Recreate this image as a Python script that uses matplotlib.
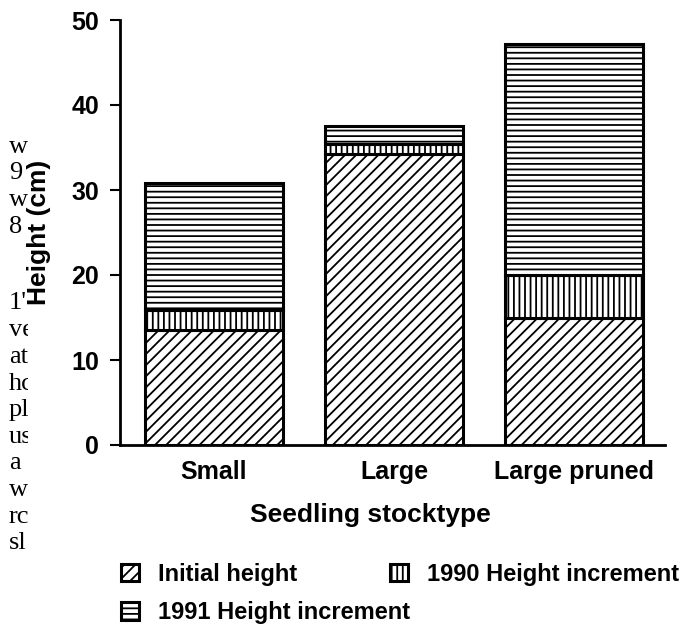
import matplotlib
matplotlib.use("Agg")
import matplotlib.pyplot as plt
import numpy as np
from matplotlib.transforms import Bbox, TransformedBbox

# data (cm)
stocktypes = ["Small", "Large", "Large pruned"]
initial = np.array([13.5, 34.2, 15.0])
inc_1990 = np.array([2.4, 1.2, 5.0])
inc_1991 = np.array([14.9, 2.1, 27.2])

# clipped words of the page text that sits left of the chart
margin_words = ["w", "9", "w", "8", "1'", "ve", "at", "hc", "pl", "us", "a", "w", "rc", "sl"]
margin_rows = [147, 173, 200, 227, 303, 330, 357, 384, 410, 437, 463, 490, 517, 543]

plt.rcParams['font.family'] = ['Liberation Sans', 'DejaVu Sans']
plt.rcParams['font.weight'] = 'bold'
plt.rcParams['axes.labelweight'] = 'bold'
plt.rcParams['hatch.linewidth'] = 1.3

W, H = 683, 629
fig = plt.figure(figsize=(W / 100, H / 100), dpi=100)
ax = fig.add_axes([120 / W, 1 - 445 / H, 545 / W, 425 / H])

x = np.arange(len(stocktypes))
width = 0.767
style = dict(color='white', edgecolor='black', linewidth=2.2)

b1 = ax.bar(x, initial, width, hatch='///', label='Initial height', **style)
b2 = ax.bar(x, inc_1990, width, bottom=initial, hatch='|||',
            label='1990 Height increment', **style)
b3 = ax.bar(x, inc_1991, width, bottom=initial + inc_1990, hatch='---',
            label='1991 Height increment', **style)

ax.set_xlim(-0.522, 2.506)
ax.set_ylim(0, 50)
ax.spines['top'].set_visible(False)
ax.spines['right'].set_visible(False)
ax.spines['left'].set_linewidth(2)
ax.spines['bottom'].set_linewidth(2)

ax.set_yticks(range(0, 51, 10))
ax.set_xticks(x)
ax.set_xticklabels(stocktypes)
ax.tick_params(axis='y', direction='out', length=7.2, width=1.5, pad=8, labelsize=18)
ax.tick_params(axis='x', length=0, pad=11, labelsize=18)

ax.set_ylabel('Height (cm)', fontsize=19)
ax.yaxis.set_label_coords(-0.126, 0.5)
ax.set_xlabel('Seedling stocktype', fontsize=19)
ax.xaxis.set_label_coords(0.46, -0.137)

leg_kw = dict(loc='upper left', frameon=False, fontsize=17, handlelength=0.76,
              handleheight=0.76, handletextpad=0.8, labelspacing=0.65,
              borderpad=0, borderaxespad=0)
fig.legend([b1, b3], ['Initial height', '1991 Height increment'],
           bbox_to_anchor=(121 / W, 1 - 563 / H), **leg_kw)
fig.legend([b2], ['1990 Height increment'],
           bbox_to_anchor=(390 / W, 1 - 563 / H), **leg_kw)

clip = TransformedBbox(Bbox([[0, 0], [28 / W, 1]]), fig.transFigure)
for word, row in zip(margin_words, margin_rows):
    t = fig.text(9 / W, 1 - row / H, word, ha='left', va='center',
                 family=['Liberation Serif', 'DejaVu Serif'], fontweight='normal',
                 fontsize=19)
    t.set_clip_box(clip)
    t.set_clip_on(True)

fig.savefig('out.png', dpi=100)
